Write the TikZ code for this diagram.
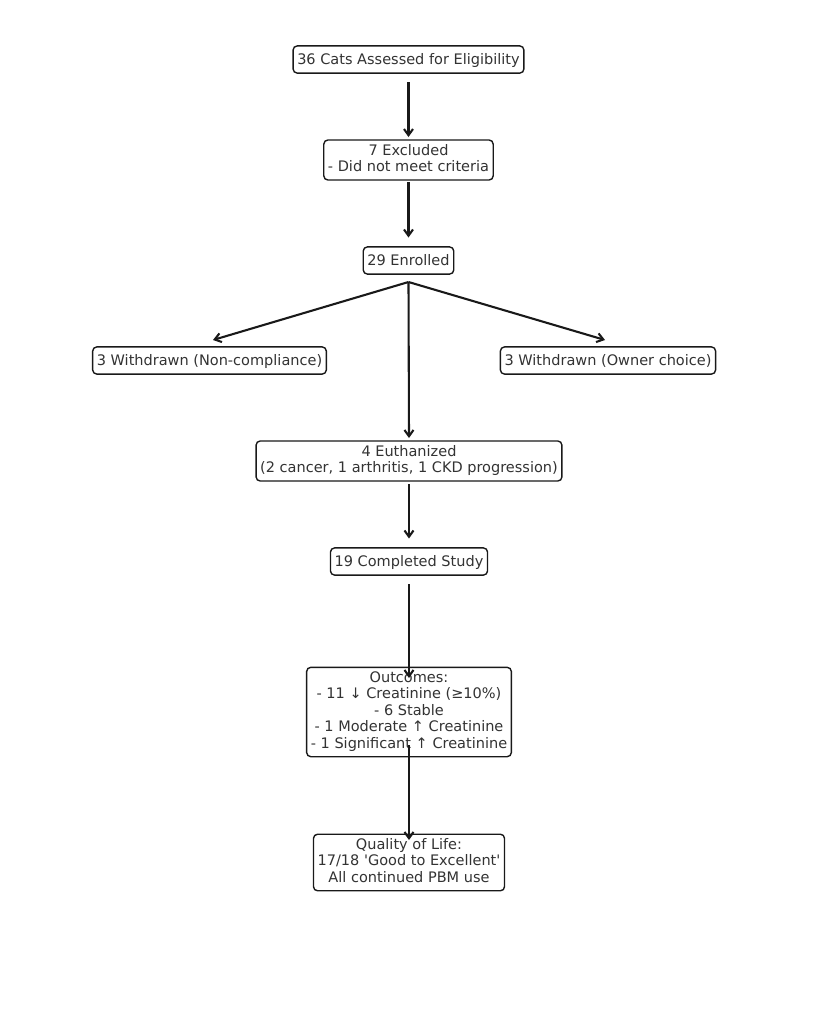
\documentclass[tikz,border=0pt]{standalone}
\usepackage{fontspec}
\setmainfont{DejaVu Sans}
\usepackage{tikz}
\usetikzlibrary{positioning}
\usetikzlibrary{calc}
\usetikzlibrary{arrows.meta}

\begin{document}
\begin{tikzpicture}[x=0.72pt, y=-0.72pt,
			flowbox/.style={rectangle, rounded corners=3pt, draw=black!90, line width=1pt, fill=white,
				text=black!80, align=center, inner xsep=3pt, inner ysep=3pt,
				font=\fontsize{10.45}{11.9}\selectfont,
				execute at begin node={\rule{0pt}{10.6pt}},
				execute at end node={\rule[-3pt]{0pt}{3pt}}},
			flowarrow/.style={-{Straight Barb[length=4.5pt, width=6.5pt]}, line width=1.5pt, black!90}
			]
			
			\useasboundingbox (0,0) rectangle (818,1024);
			
			\node[flowbox] at (408.5, 59.5) (assessed) {36 Cats Assessed for Eligibility};
			\node[flowbox] at (408.5, 160) (excluded) {7 Excluded\\- Did not meet criteria};
			\node[flowbox] at (408.5, 260.5) (enrolled) {29 Enrolled};
			\node[flowbox] at (209.5, 360.5) (noncomp) {3 Withdrawn (Non-compliance)};
			\node[flowbox] at (608, 360.5) (owner) {3 Withdrawn (Owner choice)};
			\node[flowbox] at (409, 461) (euth) {4 Euthanized\\(2 cancer, 1 arthritis, 1 CKD progression)};
			\node[flowbox] at (409, 561.5) (completed) {19 Completed Study};
			\node[flowbox] at (409, 712) (outcomes) {Outcomes:\\- 11 ↓ Creatinine (≥10\%)\\- 6 Stable\\- 1 Moderate ↑ Creatinine\\- 1 Significant ↑ Creatinine};
			\node[flowbox] at (409, 862.5) (qol) {Quality of Life:\\17/18 \textquotesingle Good to Excellent\textquotesingle\\All continued PBM use};
			
			\draw[flowarrow] ($(assessed)+(0,22.5)$) -- ($(excluded)+(0,-23)$);
			\draw[flowarrow] ($(excluded)+(0,22)$) -- ($(enrolled)+(0,-23)$);
			\draw[flowarrow] ($(enrolled)+(0,21.5)$) -- ($(noncomp)+(3.5,-20.5)$);
			\draw[flowarrow] ($(enrolled)+(0,21.5)$) -- ($(owner)+(-3,-20.5)$);
			\draw[flowarrow] ($(enrolled)+(0,21.5)$) -- ($(euth)+(0,-23)$);
			\draw[flowarrow] ($(euth)+(0,23)$) -- ($(completed)+(0,-23)$);
			\draw[flowarrow] ($(completed)+(0,22.5)$) -- ($(outcomes)+(0,-34)$);
			\draw[flowarrow] ($(outcomes)+(0,33)$) -- ($(qol)+(0,-22.5)$);
		\end{tikzpicture}
\end{document}
